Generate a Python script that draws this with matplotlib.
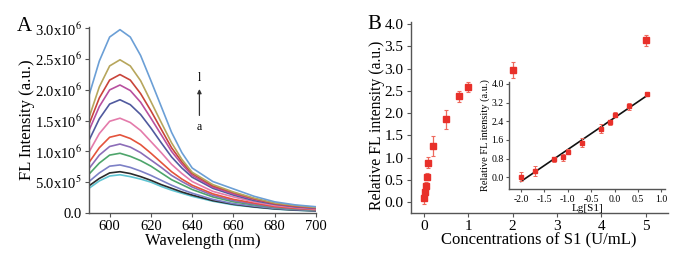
import numpy as np
import matplotlib
matplotlib.use("Agg")
import matplotlib.pyplot as plt

plt.rcParams['font.family'] = ['Liberation Serif', 'DejaVu Serif']
plt.rcParams['mathtext.fontset'] = 'stix'

# panel A: emission spectra, values in units of 1e5
wavelength = [590, 595, 600, 605, 610, 615, 620, 625, 630, 635, 640, 650, 660, 670, 680, 690, 700]
spec_a = [4.0, 5.2, 6.0, 6.2, 5.9, 5.5, 5.0, 4.3, 3.7, 3.2, 2.7, 1.9, 1.3, 0.93, 0.62, 0.43, 0.31]
spec_b = [4.4, 5.6, 6.5, 6.7, 6.4, 5.9, 5.3, 4.6, 4.0, 3.4, 2.9, 2.0, 1.4, 0.98, 0.66, 0.46, 0.33]
spec_c = [5.1, 6.5, 7.6, 7.8, 7.4, 6.8, 6.1, 5.3, 4.5, 3.8, 3.2, 2.2, 1.5, 1.1, 0.73, 0.52, 0.37]
spec_d = [6.3, 8.1, 9.4, 9.7, 9.2, 8.5, 7.6, 6.5, 5.4, 4.6, 3.8, 2.6, 1.8, 1.3, 0.87, 0.62, 0.45]
spec_e = [7.2, 9.4, 10.8, 11.2, 10.7, 9.8, 8.6, 7.4, 6.1, 5.1, 4.2, 2.85, 2.0, 1.44, 0.96, 0.69, 0.50]
spec_f = [8.2, 10.6, 12.3, 12.7, 12.1, 11.1, 9.7, 8.2, 6.7, 5.5, 4.5, 3.1, 2.2, 1.6, 1.04, 0.75, 0.54]
spec_g = [9.9, 12.9, 14.9, 15.4, 14.7, 13.4, 11.6, 9.8, 7.9, 6.4, 5.1, 3.5, 2.6, 1.8, 1.2, 0.87, 0.63]
spec_h = [11.8, 15.3, 17.7, 18.4, 17.6, 16.0, 13.8, 11.4, 9.1, 7.3, 5.8, 4.0, 2.9, 2.0, 1.4, 0.99, 0.73]
spec_i = [13.4, 17.3, 20.0, 20.8, 19.9, 18.0, 15.4, 12.7, 10.0, 7.9, 6.1, 4.2, 3.1, 2.2, 1.5, 1.06, 0.79]
spec_j = [14.4, 18.7, 21.6, 22.5, 21.6, 19.4, 16.6, 13.6, 10.6, 8.3, 6.4, 4.4, 3.3, 2.3, 1.5, 1.1, 0.84]
spec_k = [15.5, 20.5, 23.9, 24.9, 23.9, 21.5, 18.1, 14.7, 11.4, 8.7, 6.6, 4.6, 3.4, 2.4, 1.6, 1.2, 0.89]
spec_l = [19.1, 24.7, 28.6, 29.8, 28.6, 25.6, 21.5, 17.3, 13.1, 9.8, 7.3, 5.1, 3.9, 2.7, 1.8, 1.3, 1.0]
spectra = [spec_a, spec_b, spec_c, spec_d, spec_e, spec_f,
           spec_g, spec_h, spec_i, spec_j, spec_k, spec_l]
colors = ['#5ec4d2', '#2b2b2b', '#7c80c6', '#4ea56b', '#8c6db8', '#e4533c',
          '#e47bab', '#505a9e', '#b8509f', '#c9443a', '#b7a65c', '#6b9fd6']
a_yticks = [0, 5, 10, 15, 20, 25, 30]
a_ylabels = ['0.0', r'5.0x10$^5$', r'1.0x10$^6$', r'1.5x10$^6$',
             r'2.0x10$^6$', r'2.5x10$^6$', r'3.0x10$^6$']

# panel B: relative FL intensity vs S1 concentration
conc = [0.01, 0.02, 0.05, 0.08, 0.1, 0.2, 0.5, 0.8, 1.0, 2.0, 5.0]
rel_fl = [0.10, 0.23, 0.37, 0.57, 0.89, 1.26, 1.86, 2.38, 2.59, 2.97, 3.64]
rel_err = [0.15, 0.10, 0.08, 0.08, 0.12, 0.22, 0.22, 0.12, 0.12, 0.18, 0.12]

# inset: vs Lg[S1]
lg_s1 = [-2.0, -1.7, -1.3, -1.1, -1.0, -0.7, -0.3, -0.1, 0.0, 0.3, 0.7]
inset_fl = [0.02, 0.27, 0.77, 0.86, 1.10, 1.48, 2.08, 2.35, 2.68, 3.04, 3.58]
inset_err = [0.20, 0.20, 0.10, 0.15, 0.10, 0.20, 0.20, 0.10, 0.10, 0.15, 0.08]

spine_col = '#555555'
red = '#e8302a'

fig = plt.figure(figsize=(6.9, 2.59), dpi=100)

def style(ax, fs):
    for s in ['top', 'right']:
        ax.spines[s].set_visible(False)
    for s in ['left', 'bottom']:
        ax.spines[s].set_color(spine_col)
        ax.spines[s].set_linewidth(1.0)
    ax.tick_params(direction='out', length=3, width=0.8, color=spine_col,
                   labelsize=fs, pad=2)

# ---- A ----
ax1 = fig.add_axes([0.129, 0.178, 0.329, 0.717])
for y, c in zip(spectra, colors):
    ax1.plot(wavelength, y, color=c, lw=1.2)
ax1.set_xlim(590, 700)
ax1.set_ylim(0, 30.2)
ax1.set_xticks([600, 620, 640, 660, 680, 700])
ax1.set_yticks(a_yticks)
ax1.set_yticklabels(a_ylabels)
style(ax1, 10.5)
ax1.set_xlabel('Wavelength (nm)', fontsize=12, labelpad=0)
ax1.set_ylabel('FL Intensity (a.u.)', fontsize=12, labelpad=0)
ax1.annotate('', xy=(643.5, 20.6), xytext=(643.5, 15.4),
             arrowprops=dict(arrowstyle='-|>', color='#333333', lw=0.9,
                             mutation_scale=6))
ax1.text(643.5, 21.0, 'l', ha='center', va='bottom', fontsize=8.5)
ax1.text(643.5, 15.0, 'a', ha='center', va='top', fontsize=8.5)
fig.text(0.036, 0.897, 'A', fontsize=15, ha='center', va='center')

# ---- B ----
ax2 = fig.add_axes([0.595, 0.178, 0.373, 0.737])
ax2.errorbar(conc, rel_fl, yerr=rel_err, fmt='s', color=red, ms=4.5,
             ecolor='#ee6a5e', elinewidth=0.9, capsize=1.5, capthick=0.8)
ax2.set_xlim(-0.3, 5.5)
ax2.set_ylim(-0.24, 4.05)
ax2.set_xticks([0, 1, 2, 3, 4, 5])
ax2.set_yticks(np.arange(0, 4.01, 0.5))
ax2.set_yticklabels(['%.1f' % v for v in np.arange(0, 4.01, 0.5)])
style(ax2, 11)
ax2.set_xlabel('Concentrations of S1 (U/mL)', fontsize=12, labelpad=0)
ax2.set_ylabel('Relative FL intensity (a.u.)', fontsize=11.3)
ax2.yaxis.set_label_coords(-0.1, 0.46)
fig.text(0.543, 0.905, 'B', fontsize=15, ha='center', va='center')

# ---- inset ----
ax3 = fig.add_axes([0.738, 0.269, 0.226, 0.416])
ax3.patch.set_alpha(0)
k, b = np.polyfit(lg_s1, inset_fl, 1)
xs = np.array([-2.0, 0.68])
ax3.plot(xs, k * xs + b, color='#111111', lw=1.2)
ax3.errorbar(lg_s1, inset_fl, yerr=inset_err, fmt='s', color=red, ms=3,
             ecolor='#ee6a5e', elinewidth=0.8, capsize=1.2, capthick=0.7)
ax3.set_xlim(-2.25, 1.08)
ax3.set_ylim(-0.52, 4.1)
ax3.set_xticks(np.arange(-2.0, 1.01, 0.5))
ax3.set_xticklabels(['%.1f' % v for v in np.arange(-2.0, 1.01, 0.5)])
ax3.set_yticks(np.arange(0, 4.01, 0.8))
ax3.set_yticklabels(['%.1f' % v for v in np.arange(0, 4.01, 0.8)])
style(ax3, 7)
ax3.tick_params(length=2)
ax3.set_xlabel('Lg[S1]', fontsize=8, labelpad=0)
ax3.set_ylabel('Relative FL intensity (a.u.)', fontsize=7.5, labelpad=1)

fig.savefig('out.png', dpi=100)
